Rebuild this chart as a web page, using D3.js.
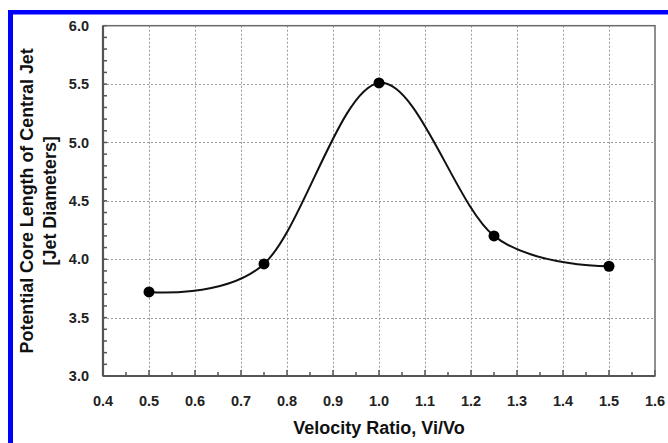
<!DOCTYPE html>
<html><head><meta charset="utf-8">
<script src="https://cdn.jsdelivr.net/npm/d3@7"></script>
<style>body{margin:0;background:#fff;} svg{display:block;}</style>
</head><body>
<svg id="c" width="668" height="443"></svg>
<script>
const velocityRatio = [0.5, 0.75, 1.0, 1.25, 1.5];
const coreLength = [3.72, 3.96, 5.51, 4.20, 3.94];
const xTicks = [0.4,0.5,0.6,0.7,0.8,0.9,1.0,1.1,1.2,1.3,1.4,1.5,1.6];
const yTicks = [3.0,3.5,4.0,4.5,5.0,5.5,6.0];
const xTitle = "Velocity Ratio, Vi/Vo";
const yTitle1 = "Potential Core Length of Central Jet";
const yTitle2 = "[Jet Diameters]";

const svg = d3.select("#c");
const L=103, R=655, T=25.7, B=376;
const x = d3.scaleLinear().domain([0.4,1.6]).range([L,R]);
const y = d3.scaleLinear().domain([3.0,6.0]).range([B,T]);
const font = "'Liberation Sans', Arial, sans-serif";

// blue border (top and left)
svg.append("rect").attr("x",8).attr("y",10).attr("width",660).attr("height",4.5).attr("fill","#0000ff");
svg.append("rect").attr("x",8).attr("y",10).attr("width",5).attr("height",433).attr("fill","#0000ff");

// grid
const grid = svg.append("g").attr("stroke","#9a9a9a").attr("stroke-width",1).attr("stroke-dasharray","2,2");
grid.selectAll(".gx").data(xTicks.slice(1,-1)).join("line")
  .attr("x1",d=>Math.round(x(d))+0.5).attr("x2",d=>Math.round(x(d))+0.5).attr("y1",T).attr("y2",B);
grid.selectAll(".gy").data(yTicks.slice(1,-1)).join("line")
  .attr("y1",d=>Math.round(y(d))+0.5).attr("y2",d=>Math.round(y(d))+0.5).attr("x1",L).attr("x2",R);

// minor ticks
const minorY = d3.range(30,61).map(v=>v/10);
const minorX = d3.range(8,33).map(v=>v/20);
const tk = svg.append("g").attr("stroke","#555").attr("stroke-width",1.5);
tk.selectAll(".my").data(minorY).join("line")
  .attr("x1",L).attr("x2",L+4).attr("y1",d=>y(d)).attr("y2",d=>y(d));
tk.selectAll(".mx").data(minorX).join("line")
  .attr("y1",B).attr("y2",d=>B-(Math.abs(d*10-Math.round(d*10))<1e-6?6:4)).attr("x1",d=>x(d)).attr("x2",d=>x(d));

// frame
svg.append("rect").attr("x",L).attr("y",T).attr("width",R-L).attr("height",B-T)
  .attr("fill","none").attr("stroke","#6a6a6a").attr("stroke-width",1.5);
svg.append("line").attr("x1",L).attr("x2",R).attr("y1",B).attr("y2",B).attr("stroke","#555").attr("stroke-width",2.2);
svg.append("line").attr("x1",L).attr("x2",L).attr("y1",T).attr("y2",B).attr("stroke","#555").attr("stroke-width",2.2);

// tick labels
svg.append("g").selectAll("text").data(xTicks).join("text")
  .attr("x",d=>x(d)).attr("y",406).attr("text-anchor","middle")
  .attr("font-family",font).attr("font-weight","bold").attr("font-size",14.5).attr("fill","#222")
  .text(d=>d3.format(".1f")(d));
svg.append("g").selectAll("text").data(yTicks).join("text")
  .attr("x",89).attr("y",d=>y(d)).attr("dy","0.36em").attr("text-anchor","end")
  .attr("font-family",font).attr("font-weight","bold").attr("font-size",14.5).attr("fill","#222")
  .text(d=>d3.format(".1f")(d));

// titles
svg.append("text").attr("x",(L+R)/2).attr("y",434).attr("text-anchor","middle")
  .attr("font-family",font).attr("font-weight","bold").attr("font-size",18).attr("fill","#111").text(xTitle);
svg.append("text").attr("transform",`translate(33,${(T+B)/2}) rotate(-90)`).attr("text-anchor","middle")
  .attr("font-family",font).attr("font-weight","bold").attr("font-size",17.9).attr("fill","#111").text(yTitle1);
svg.append("text").attr("transform",`translate(55.5,${(T+B)/2}) rotate(-90)`).attr("text-anchor","middle")
  .attr("font-family",font).attr("font-weight","bold").attr("font-size",17.9).attr("fill","#111").text(yTitle2);

// curve
const pts = velocityRatio.map((v,i)=>[v,coreLength[i]]);
const line = d3.line().x(d=>x(d[0])).y(d=>y(d[1])).curve(d3.curveCardinal.tension(0));
svg.append("path").datum(pts).attr("d",line).attr("fill","none").attr("stroke","#111").attr("stroke-width",2);
svg.append("g").selectAll("circle").data(pts).join("circle")
  .attr("cx",d=>x(d[0])).attr("cy",d=>y(d[1])).attr("r",5.5).attr("fill","#000");
</script>
</body></html>
